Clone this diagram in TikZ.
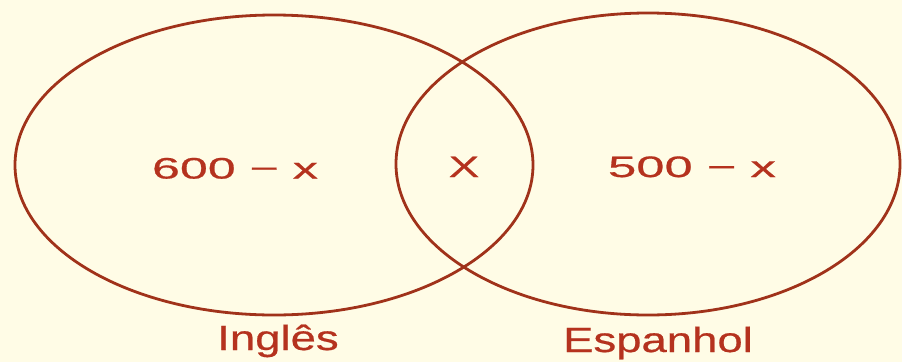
\documentclass[tikz,border=0pt]{standalone}
\usepackage{fontspec}
\setmainfont{Liberation Sans}
\definecolor{bg}{HTML}{FFFCE6}
\definecolor{ln}{HTML}{A0321A}
\definecolor{tx}{HTML}{B5321E}
\begin{document}
\begin{tikzpicture}[x=1pt,y=-1pt,
  setline/.style={draw=ln, line width=2.8pt},
  num/.style={text=tx, font=\fontsize{29.5}{30}\selectfont\addfontfeature{FakeBold=0.5}, inner sep=0pt, anchor=base},
  lab/.style={text=tx, font=\fontsize{35}{36}\selectfont\addfontfeature{FakeBold=0.5}, inner sep=0pt, anchor=base}]
\fill[bg] (0,0) rectangle (902,362);
\useasboundingbox (0,0) rectangle (902,362);
\draw[setline] (274,165) ellipse [x radius=259, y radius=150];
\draw[setline] (648,164) ellipse [x radius=252, y radius=151];
\node[num] (ingonly) at (235,178.5) {\scalebox{1.7}[1]{600 − x}};
\node[num] (both) at (464,177) {\scalebox{1.55}[1]{X}};
\node[num] (esponly) at (692,177) {\scalebox{1.72}[1]{500 − x}};
\node[lab] (ing) at (278,350) {\scalebox{1.3}[1]{Inglês}};
\node[lab] (esp) at (658,352) {\scalebox{1.3}[1]{Espanhol}};
\end{tikzpicture}
\end{document}
